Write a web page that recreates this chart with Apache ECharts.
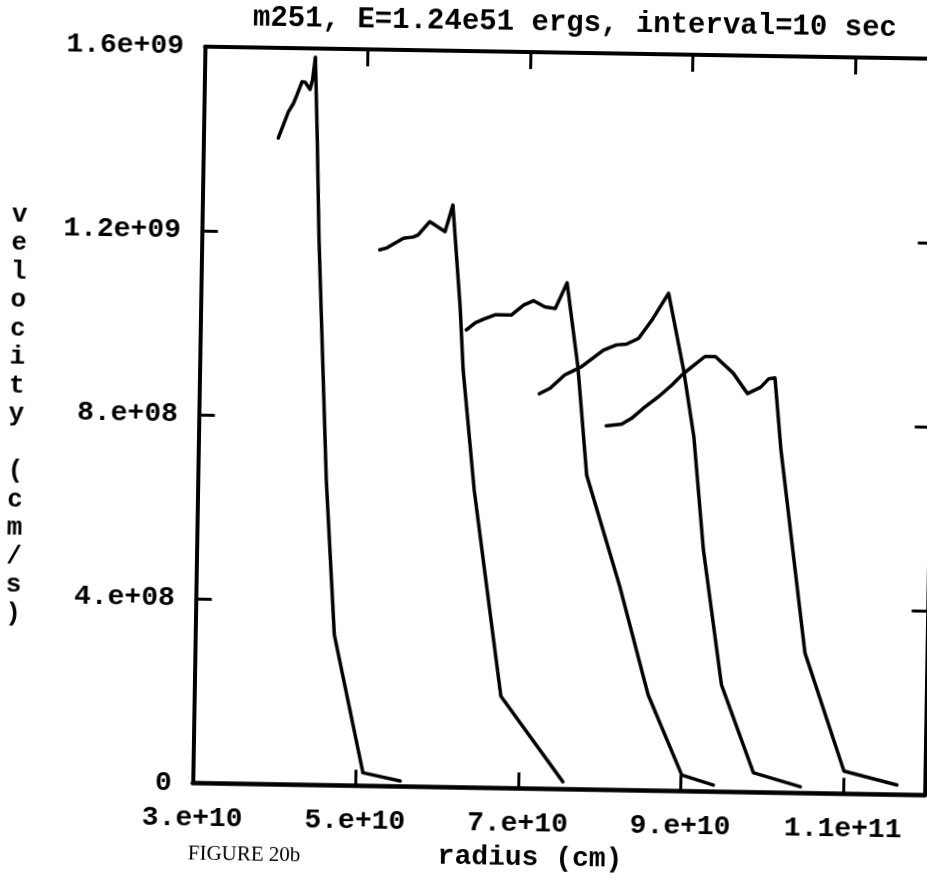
<!DOCTYPE html>
<html>
<head>
<meta charset="utf-8">
<script src="https://cdn.jsdelivr.net/npm/echarts@6/dist/echarts.min.js"></script>
<style>
html, body { margin: 0; padding: 0; background: #fff; overflow: hidden; width: 927px; height: 878px; }
#chart { position: absolute; left: 0; top: 0; width: 960px; height: 900px;
         transform-origin: 463.5px 439px; transform: rotate(0.95deg); background: #fff; }
</style>
</head>
<body>
<div id="chart"></div>
<script>
// Velocity profiles of the shock at successive 10 s snapshots (radius in cm, velocity in cm/s)
const radius1   = [3.92e10, 3.98e10, 4.04e10, 4.10e10, 4.14e10, 4.20e10, 4.24e10, 4.30e10, 4.33e10, 4.36e10, 4.40e10, 4.44e10, 4.58e10, 4.71e10, 5.09e10, 5.55e10];
const velocity1 = [1.404e9, 1.433e9, 1.462e9, 1.480e9, 1.498e9, 1.527e9, 1.526e9, 1.511e9, 1.532e9, 1.581e9, 1.401e9, 1.191e9, 6.63e8, 3.27e8, 2.85e7, 1.18e7];

const radius2   = [5.19e10, 5.27e10, 5.48e10, 5.60e10, 5.66e10, 5.80e10, 5.99e10, 6.08e10, 6.19e10, 6.24e10, 6.40e10, 6.77e10, 7.55e10];
const velocity2 = [1.165e9, 1.169e9, 1.191e9, 1.194e9, 1.199e9, 1.228e9, 1.207e9, 1.265e9, 1.044e9, 9.07e8, 6.47e8, 2.00e8, 1.6e7];

const radius3   = [6.27e10, 6.38e10, 6.48e10, 6.62e10, 6.82e10, 6.97e10, 7.09e10, 7.23e10, 7.36e10, 7.50e10, 7.65e10, 7.78e10, 8.21e10, 8.58e10, 9.01e10, 9.40e10];
const velocity3 = [9.94e8, 1.010e9, 1.018e9, 1.028e9, 1.028e9, 1.050e9, 1.060e9, 1.047e9, 1.044e9, 1.100e9, 9.18e8, 6.83e8, 4.42e8, 2.08e8, 3.5e7, 1.43e7];

const radius4   = [7.18e10, 7.31e10, 7.49e10, 7.59e10, 7.70e10, 7.96e10, 8.12e10, 8.24e10, 8.39e10, 8.55e10, 8.75e10, 8.95e10, 9.09e10, 9.23e10, 9.48e10, 9.89e10, 1.047e11];
const velocity4 = [8.58e8, 8.70e8, 9.00e8, 9.09e8, 9.19e8, 9.55e8, 9.67e8, 9.69e8, 9.82e8, 1.022e9, 1.081e9, 9.15e8, 7.70e8, 5.25e8, 2.32e8, 4.26e7, 1.39e7];

const radius5   = [8.01e10, 8.20e10, 8.32e10, 8.46e10, 8.64e10, 8.81e10, 8.93e10, 9.05e10, 9.21e10, 9.34e10, 9.56e10, 9.74e10, 9.90e10, 1.000e11, 1.0075e11, 1.0163e11, 1.0499e11, 1.1003e11, 1.1657e11];
const velocity5 = [7.91e8, 7.95e8, 8.08e8, 8.30e8, 8.55e8, 8.82e8, 9.04e8, 9.22e8, 9.45e8, 9.45e8, 9.10e8, 8.66e8, 8.80e8, 8.99e8, 9.01e8, 7.45e8, 3.05e8, 4.95e7, 2.11e7];

// Axis tick values and their printed labels
const xTickValues = [3e10, 5e10, 7e10, 9e10, 1.1e11];
const xTickLabels = ['3.e+10', '5.e+10', '7.e+10', '9.e+10', '1.1e+11'];
const yTickValues = [0, 4e8, 8e8, 1.2e9, 1.6e9];
const yTickLabels = ['0', '4.e+08', '8.e+08', '1.2e+09', '1.6e+09'];

const titleText = 'm251, E=1.24e51 ergs, interval=10 sec';
const xName = 'radius (cm)';
const yName = 'velocity (cm/s)';
const figureLabel = 'FIGURE 20b';

const profiles = [
  [radius1, velocity1], [radius2, velocity2], [radius3, velocity3],
  [radius4, velocity4], [radius5, velocity5]
];

function lookup(values, labels) {
  return function (v) {
    const i = values.findIndex(t => Math.abs(t - v) <= Math.abs(t) * 1e-6 + 1e-3);
    return i >= 0 ? labels[i] : '';
  };
}

const MONO = '"Liberation Mono", "DejaVu Sans Mono", monospace';
const INK = '#000';

const labelStyle = { color: INK, fontFamily: MONO, fontWeight: 'bold', fontSize: 28 };
const frameLine = w => ({ show: true, onZero: false, lineStyle: { color: INK, width: w } });
const inTick = len => ({ show: true, inside: true, length: len, lineStyle: { color: INK, width: 3 } });

const chart = echarts.init(document.getElementById('chart'), null, { renderer: 'canvas' });

chart.setOption({
  animation: false,
  backgroundColor: '#fff',
  grid: { left: 198.5, top: 51, width: 732, height: 736.5, containLabel: false, outerBoundsMode: 'none' },
  xAxis: [
    {
      type: 'value', position: 'bottom', min: 3e10, max: 1.2e11, interval: 2e10,
      axisLine: frameLine(4.5), axisTick: inTick(16), splitLine: { show: false },
      axisLabel: Object.assign({ margin: 21, showMaxLabel: false, formatter: lookup(xTickValues, xTickLabels) }, labelStyle)
    },
    {
      type: 'value', position: 'top', min: 3e10, max: 1.2e11, interval: 2e10,
      axisLine: frameLine(4), axisTick: inTick(17), splitLine: { show: false },
      axisLabel: { show: false }
    }
  ],
  yAxis: [
    {
      type: 'value', position: 'left', min: 0, max: 1.6e9, interval: 4e8,
      axisLine: frameLine(4), axisTick: inTick(16), splitLine: { show: false },
      axisLabel: Object.assign({ margin: 21, formatter: lookup(yTickValues, yTickLabels) }, labelStyle)
    },
    {
      type: 'value', position: 'right', min: 0, max: 1.6e9, interval: 4e8,
      axisLine: frameLine(4), axisTick: inTick(16), splitLine: { show: false },
      axisLabel: { show: false }
    }
  ],
  series: profiles.map(([r, v], k) => ({
    name: 't' + (k + 1),
    type: 'line',
    xAxisIndex: 0, yAxisIndex: 0,
    showSymbol: false, symbol: 'none',
    data: r.map((x, i) => [x, v[i]]),
    lineStyle: { color: INK, width: 3.5, join: 'round', cap: 'round' },
    z: 3
  })),
  graphic: [
    { type: 'text', x: 568, y: 22, style: { text: titleText, fill: INK, fontFamily: MONO, fontWeight: 'bold', fontSize: 29, align: 'center', verticalAlign: 'middle' } },
    { type: 'text', x: 537, y: 857, style: { text: xName, fill: INK, fontFamily: MONO, fontWeight: 'bold', fontSize: 28, align: 'center', verticalAlign: 'middle' } },
    { type: 'text', x: 251, y: 858, style: { text: figureLabel, fill: INK, fontFamily: '"Liberation Serif", "DejaVu Serif", serif', fontSize: 21, align: 'center', verticalAlign: 'middle' } },
    { type: 'text', x: 16, y: 208, style: { text: yName.split('').join('\n'), fill: INK, fontFamily: MONO, fontWeight: 'bold', fontSize: 26, lineHeight: 28.5, align: 'center', verticalAlign: 'top' } }
  ]
});
</script>
</body>
</html>
